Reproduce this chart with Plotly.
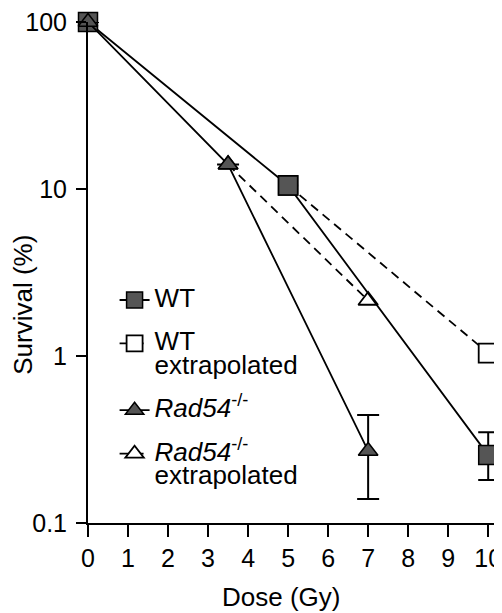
import plotly.graph_objects as go

# ---- data ----
wt_dose = [0, 5, 10]
wt_surv = [100, 10.5, 0.255]
wt_err_plus = [None, None, 0.095]
wt_err_minus = [None, None, 0.074]

wt_ext_dose = [5, 10]
wt_ext_surv = [10.5, 1.04]

rad_dose = [0, 3.5, 7]
rad_surv = [100, 14.0, 0.27]
rad_err_plus = [None, None, 0.173]
rad_err_minus = [None, None, 0.131]

rad_ext_dose = [3.5, 7]
rad_ext_surv = [14.0, 2.15]

x_ticks = list(range(0, 11))
y_ticks = [0.1, 1, 10, 100]
y_tick_labels = ["0.1", "1", "10", "100"]

FONT = "Liberation Sans, Arial, Helvetica, sans-serif"
FILL = "#555555"


def big(t):
    return "<span style='font-size:26px'>" + t + "</span>"


fig = go.Figure()

# extrapolated (drawn first so solid markers cover shared start points)
fig.add_trace(go.Scatter(
    x=wt_ext_dose, y=wt_ext_surv, mode="lines+markers",
    name=big("WT<br>extrapolated"), legendrank=2, legendgroup="b",
    line=dict(color="black", width=1.8, dash="9px,6px"),
    marker=dict(symbol="square", size=19, color="white",
                line=dict(color="black", width=1.8)),
    cliponaxis=False,
))
fig.add_trace(go.Scatter(
    x=rad_ext_dose, y=rad_ext_surv, mode="lines+markers",
    name=big("<i>Rad54</i><sup>-/-</sup><br>extrapolated"), legendrank=4,
    legendgroup="d",
    line=dict(color="black", width=1.8, dash="9px,6px"),
    marker=dict(symbol="triangle-up", size=17, color="white",
                line=dict(color="black", width=1.8)),
    cliponaxis=False,
))
fig.add_trace(go.Scatter(
    x=wt_dose, y=wt_surv, mode="lines+markers",
    name=big("WT"), legendrank=1, legendgroup="a",
    line=dict(color="black", width=1.8),
    marker=dict(symbol="square", size=19, color=FILL,
                line=dict(color="black", width=1.5)),
    error_y=dict(type="data", symmetric=False, array=wt_err_plus,
                 arrayminus=wt_err_minus, color="black", thickness=2, width=10),
    cliponaxis=False,
))
fig.add_trace(go.Scatter(
    x=rad_dose, y=rad_surv, mode="lines+markers",
    name=big("<i>Rad54</i><sup>-/-</sup>"), legendrank=3, legendgroup="c",
    line=dict(color="black", width=1.8),
    marker=dict(symbol="triangle-up", size=17, color=FILL,
                line=dict(color="black", width=1.5)),
    error_y=dict(type="data", symmetric=False, array=rad_err_plus,
                 arrayminus=rad_err_minus, color="black", thickness=2, width=11),
    cliponaxis=False,
))

fig.update_layout(
    width=494, height=605,
    margin=dict(l=80, r=0, t=14, b=90),
    paper_bgcolor="white", plot_bgcolor="white",
    font=dict(family=FONT, size=25, color="black"),
    showlegend=True,
    legend=dict(
        x=0.065, y=0.4814, xanchor="left", yanchor="top",
        bgcolor="rgba(0,0,0,0)", itemwidth=30, valign="top",
        tracegroupgap=17, font=dict(family=FONT, size=18),
        itemclick=False,
    ),
    xaxis=dict(
        range=[0, 10.22], tickvals=x_ticks, ticks="outside", ticklen=12,
        tickwidth=2, tickcolor="black", showline=True, linecolor="black",
        linewidth=2, showgrid=False, zeroline=False,
        tickfont=dict(size=25), ticklabeloverflow="allow",
    ),
    yaxis=dict(
        type="log", range=[-1, 2], tickvals=y_ticks, ticktext=y_tick_labels,
        ticks="outside", ticklen=10, tickwidth=2, tickcolor="black",
        showline=True, linecolor="black", linewidth=2, showgrid=False,
        zeroline=False, tickfont=dict(size=25), ticklabelstandoff=4,
        ticklabeloverflow="allow",
    ),
    annotations=[
        dict(text="Survival (%)", xref="paper", yref="paper",
             x=(22 - 88) / 414, y=(523 - 305) / 501, textangle=-90,
             showarrow=False, xanchor="center", yanchor="middle",
             font=dict(size=26)),
        dict(text="Dose (Gy)", xref="paper", yref="paper",
             x=(283.5 - 88) / 414, y=(523 - 597) / 501,
             showarrow=False, xanchor="center", yanchor="middle",
             font=dict(size=26)),
    ],
)

fig.write_html("out.html")
